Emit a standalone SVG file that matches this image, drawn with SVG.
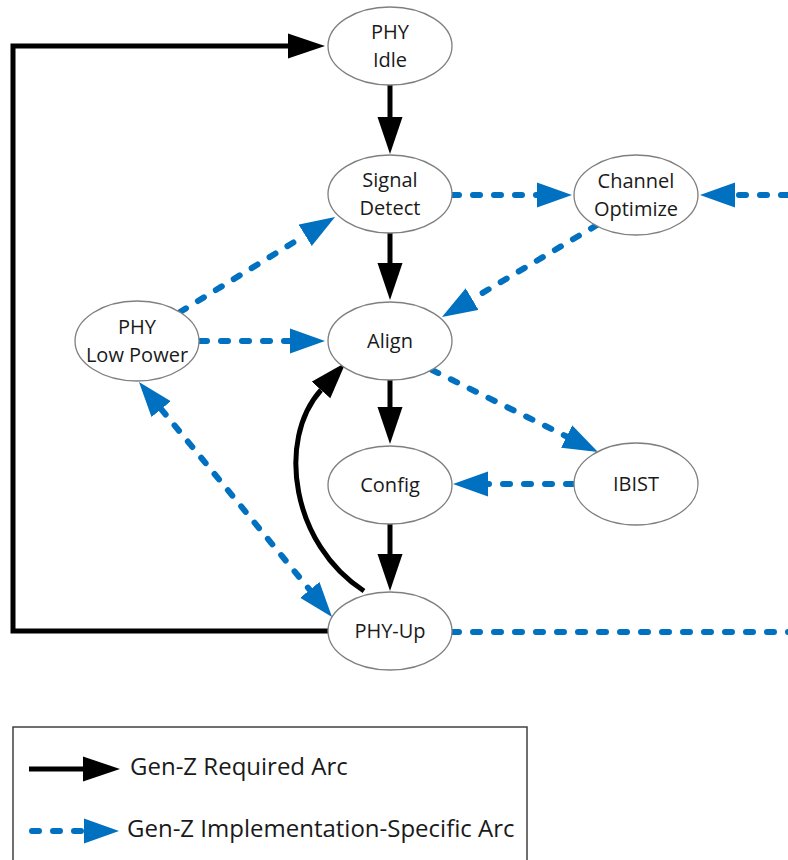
<svg xmlns="http://www.w3.org/2000/svg" width="788" height="860" viewBox="0 0 788 860">
  <style>
    .node ellipse { fill: #ffffff; stroke: #7f7f7f; stroke-width: 1.3; }
    .node text { font-family: "Open Sans", "Noto Sans", sans-serif; font-size: 20px; fill: #1a1a1a; text-anchor: middle; }
    .req { fill: none; stroke: #000000; stroke-width: 5; }
    .opt { fill: none; stroke: #0070c0; stroke-width: 6; stroke-dasharray: 7 14; stroke-linecap: round; }
    .legend text { font-family: "Open Sans", "Noto Sans", sans-serif; font-size: 24px; fill: #1a1a1a; }
  </style>
  <defs>
    <!-- heads are anchored at their base; the tip sits beyond the path end -->
    <marker id="headReq" markerUnits="userSpaceOnUse" viewBox="0 -13 38 26" refX="0" refY="0" markerWidth="38" markerHeight="26" orient="auto-start-reverse">
      <path d="M0,-12.5 L37,0 L0,12.5 Z" fill="#000000"/>
    </marker>
    <marker id="headOpt" markerUnits="userSpaceOnUse" viewBox="0 -13 36 26" refX="0" refY="0" markerWidth="36" markerHeight="26" orient="auto-start-reverse">
      <path d="M0,-12.5 L35,0 L0,12.5 Z" fill="#0070c0"/>
    </marker>
  </defs>

  <rect x="0" y="0" width="788" height="860" fill="#ffffff"/>

  <g id="connectors">
    <!-- required arcs -->
    <path class="req" d="M390,85 V117" marker-end="url(#headReq)"/>
    <path class="req" d="M390,233 V263" marker-end="url(#headReq)"/>
    <path class="req" d="M390,380 V407" marker-end="url(#headReq)"/>
    <path class="req" d="M390,524 V554" marker-end="url(#headReq)"/>
    <path class="req" d="M328,631 H13 V46 H288" marker-end="url(#headReq)"/>
    <path class="req" d="M364,591 C292,545 276,440 321,390" marker-end="url(#headReq)"/>

    <!-- implementation-specific arcs -->
    <path class="opt" d="M452,195 H537" marker-end="url(#headOpt)"/>
    <path class="opt" d="M788,195 H735" marker-end="url(#headOpt)"/>
    <path class="opt" d="M597,225 L472.1,299.1" marker-end="url(#headOpt)"/>
    <path class="opt" d="M180,312 L305.2,235.3" marker-end="url(#headOpt)"/>
    <path class="opt" d="M200,341 H290" marker-end="url(#headOpt)"/>
    <path class="opt" d="M432,370 L566.6,436.5" marker-end="url(#headOpt)"/>
    <path class="opt" d="M573,484 H488" marker-end="url(#headOpt)"/>
    <path class="opt" d="M452,632 H790"/>
    <path class="opt" d="M161.2,409.1 L309.8,589.9" marker-start="url(#headOpt)" marker-end="url(#headOpt)"/>
  </g>

  <g id="phy-idle" class="node">
    <ellipse cx="390" cy="46" rx="62" ry="39"/>
    <text x="390" y="39">PHY</text>
    <text x="390" y="67">Idle</text>
  </g>
  <g id="signal-detect" class="node">
    <ellipse cx="390" cy="194" rx="62" ry="39"/>
    <text x="390" y="187">Signal</text>
    <text x="390" y="215">Detect</text>
  </g>
  <g id="channel-optimize" class="node">
    <ellipse cx="636" cy="195" rx="62" ry="40"/>
    <text x="636" y="188">Channel</text>
    <text x="636" y="216">Optimize</text>
  </g>
  <g id="phy-low-power" class="node">
    <ellipse cx="137" cy="341" rx="62" ry="40"/>
    <text x="137" y="334">PHY</text>
    <text x="137" y="362">Low Power</text>
  </g>
  <g id="align" class="node">
    <ellipse cx="390" cy="341" rx="62" ry="39"/>
    <text x="390" y="348">Align</text>
  </g>
  <g id="config" class="node">
    <ellipse cx="390" cy="485" rx="62" ry="39"/>
    <text x="390" y="492">Config</text>
  </g>
  <g id="ibist" class="node">
    <ellipse cx="636" cy="484" rx="62" ry="41"/>
    <text x="636" y="491">IBIST</text>
  </g>
  <g id="phy-up" class="node">
    <ellipse cx="390" cy="631" rx="62" ry="39"/>
    <text x="390" y="638">PHY-Up</text>
  </g>

  <g id="legend" class="legend">
    <rect x="13" y="727" width="514" height="150" fill="none" stroke="#404040" stroke-width="1.5"/>
    <path class="req" d="M29,769 H83" marker-end="url(#headReq)"/>
    <text x="130" y="775">Gen-Z Required Arc</text>
    <path class="opt" d="M32,831 H84" marker-end="url(#headOpt)"/>
    <text x="127" y="837">Gen-Z Implementation-Specific Arc</text>
  </g>
</svg>
